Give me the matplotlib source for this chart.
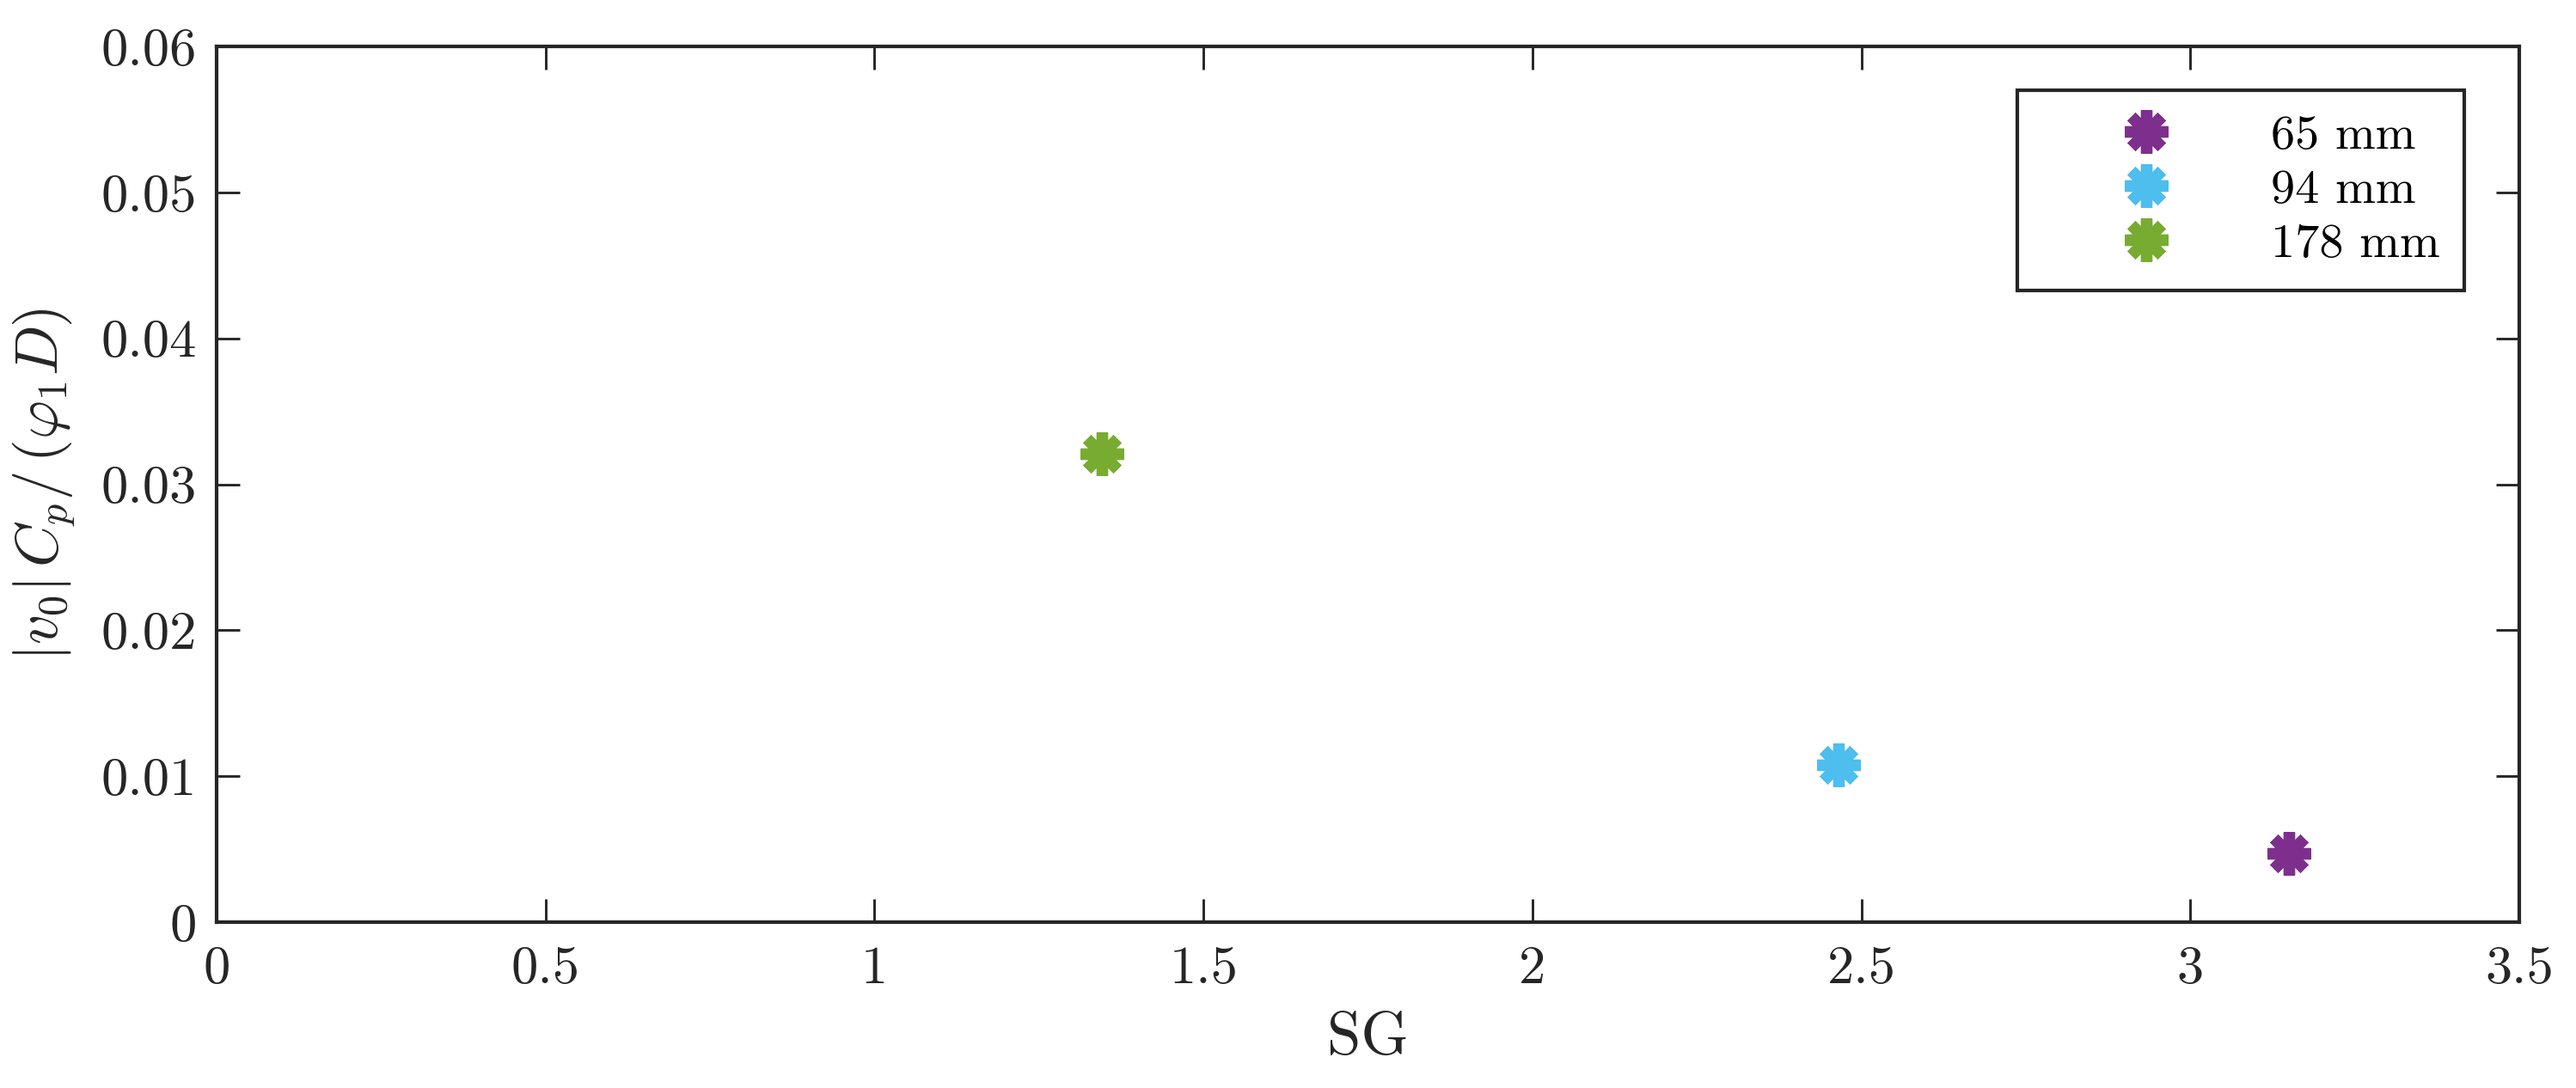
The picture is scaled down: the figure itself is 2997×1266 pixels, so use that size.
import matplotlib
matplotlib.use('Agg')
import matplotlib.pyplot as plt

plt.rcParams['font.family'] = 'serif'
plt.rcParams['font.serif'] = ['cmr10']
plt.rcParams['mathtext.fontset'] = 'cm'
plt.rcParams['axes.formatter.use_mathtext'] = True

labels = ['65 mm', '94 mm', '178 mm']
sg = [3.15, 2.465, 1.345]
vals = [0.0047, 0.0108, 0.0321]
colors = ['#7E2F8E', '#4DBEEE', '#77AC30']

dark = '#262626'

fig = plt.figure(figsize=(9.99, 4.22), dpi=300)
ax = fig.add_axes([0.0841, 0.1524, 0.8939, 0.8049])

for x, y, c, lab in zip(sg, vals, colors, labels):
    ax.plot([x], [y], linestyle='none', marker=(8, 2, 0), markersize=12,
            markeredgewidth=3.2, color=c, label=lab)

ax.set_xlim(0, 3.5)
ax.set_ylim(0, 0.06)
ax.set_xticks([0, 0.5, 1, 1.5, 2, 2.5, 3, 3.5])
ax.set_xticklabels(['0', '0.5', '1', '1.5', '2', '2.5', '3', '3.5'])
ax.set_yticks([0, 0.01, 0.02, 0.03, 0.04, 0.05, 0.06])
ax.set_yticklabels(['0', '0.01', '0.02', '0.03', '0.04', '0.05', '0.06'])

ax.tick_params(direction='in', top=True, right=True, length=6.5, width=0.7,
               labelsize=15, colors=dark)
ax.tick_params(axis='x', pad=6.5)
ax.tick_params(axis='y', pad=5.5)
for s in ax.spines.values():
    s.set_linewidth(1.0)
    s.set_color(dark)

ax.set_xlabel('SG', fontsize=17, color=dark, labelpad=5)
ax.set_ylabel(r'$|v_0|\,C_p/\,(\varphi_1 D)$', fontsize=16.5, color=dark, labelpad=7)

leg = ax.legend(loc='upper right', bbox_to_anchor=(0.9761, 0.950), fontsize=13.5,
                frameon=True, fancybox=False, edgecolor=dark, framealpha=1,
                handlelength=4.33, handletextpad=0.41, borderpad=0.5,
                borderaxespad=0, labelspacing=0.23, markerscale=1)
leg.get_frame().set_linewidth(1.0)

fig.savefig('out.png', dpi=300)
